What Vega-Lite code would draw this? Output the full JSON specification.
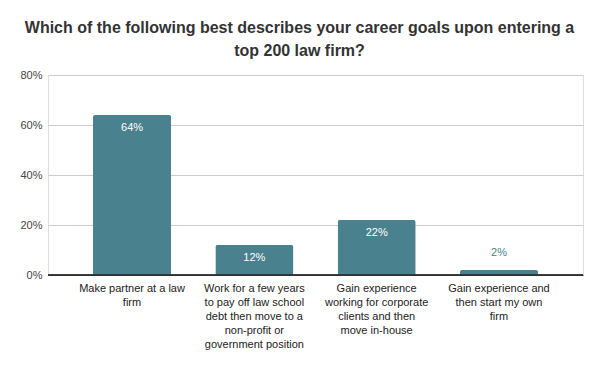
{
  "$schema": "https://vega.github.io/schema/vega-lite/v6.json",
  "width": 535,
  "height": 200,
  "autosize": {"type": "none"},
  "padding": {"left": 48, "top": 75, "right": 17, "bottom": 96},
  "background": "white",
  "title": {
    "text": ["Which of the following best describes your career goals upon entering a", "top 200 law firm?"],
    "font": "Liberation Sans",
    "fontSize": 16,
    "fontWeight": "bold",
    "color": "#333333",
    "lineHeight": 23,
    "anchor": "middle",
    "frame": "group",
    "dx": -16,
    "offset": 10
  },
  "data": {
    "values": [
      {"goal": "Make partner at a law|firm", "share": 0.64},
      {"goal": "Work for a few years|to pay off law school|debt then move to a|non-profit or|government position", "share": 0.12},
      {"goal": "Gain experience|working for corporate|clients and then|move in-house", "share": 0.22},
      {"goal": "Gain experience and|then start my own|firm", "share": 0.02}
    ]
  },
  "encoding": {
    "x": {
      "field": "goal",
      "type": "nominal",
      "sort": null,
      "scale": {"paddingInner": 0.362, "paddingOuter": 0.368},
      "axis": {
        "title": null,
        "labelAngle": 0,
        "labelExpr": "split(datum.value, '|')",
        "labelFont": "Liberation Sans",
        "labelFontSize": 11,
        "labelColor": "#222222",
        "labelLineHeight": 14,
        "labelPadding": 7,
        "labelBaseline": "top",
        "labelLimit": 200,
        "ticks": false,
        "domainColor": "#333333",
        "domainWidth": 1
      }
    },
    "y": {
      "field": "share",
      "type": "quantitative",
      "scale": {"domain": [0, 0.8]},
      "axis": {
        "title": null,
        "format": ".0%",
        "values": [0, 0.2, 0.4, 0.6, 0.8],
        "labelFont": "Liberation Sans",
        "labelFontSize": 11,
        "labelColor": "#444444",
        "labelPadding": 6,
        "ticks": false,
        "domain": false,
        "gridColor": "#cccccc",
        "gridWidth": 1
      }
    }
  },
  "layer": [
    {
      "mark": {"type": "bar", "color": "#4a818e", "cornerRadiusTopLeft": 2, "cornerRadiusTopRight": 2}
    },
    {
      "transform": [{"filter": "datum.share >= 0.05"}],
      "mark": {"type": "text", "font": "Liberation Sans", "fontSize": 11, "color": "#ffffff", "baseline": "middle", "dy": 13},
      "encoding": {"text": {"field": "share", "type": "quantitative", "format": ".0%"}}
    },
    {
      "transform": [{"filter": "datum.share < 0.05"}],
      "mark": {"type": "text", "font": "Liberation Sans", "fontSize": 11, "color": "#4a818e", "baseline": "middle", "dy": -17},
      "encoding": {"text": {"field": "share", "type": "quantitative", "format": ".0%"}}
    },
    {
      "mark": {"type": "rule", "color": "#333333", "strokeWidth": 1},
      "encoding": {"y": {"datum": 0}, "x": null}
    }
  ]
}
